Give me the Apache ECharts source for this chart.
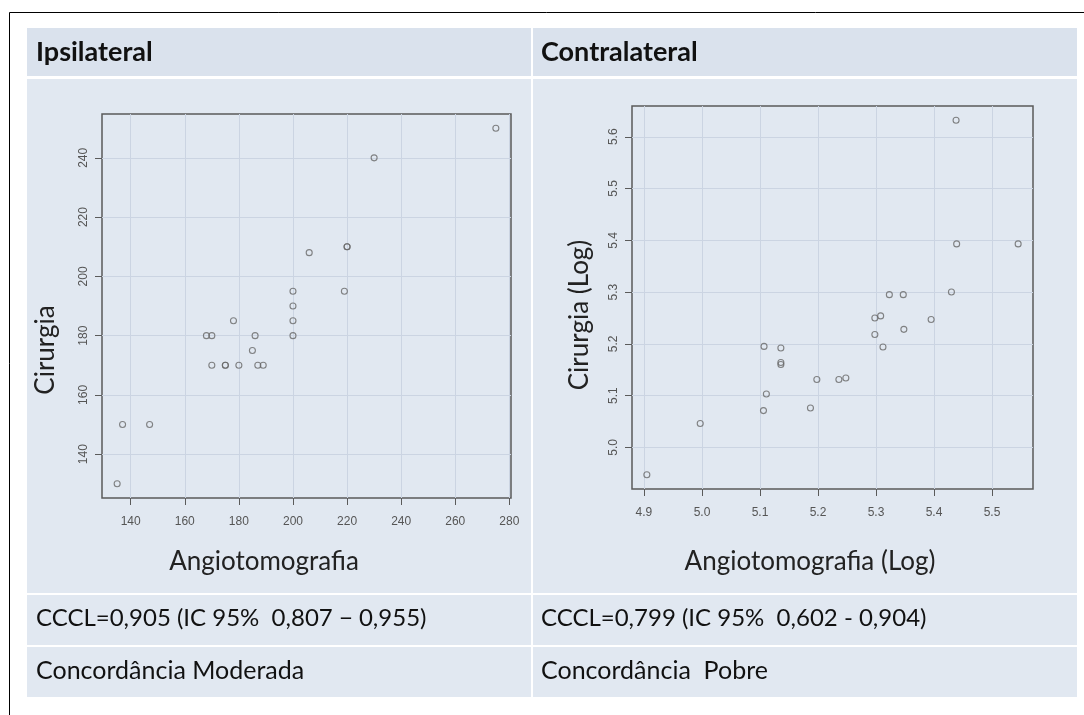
<!DOCTYPE html>
<html><head><meta charset="utf-8">
<script src="https://cdn.jsdelivr.net/npm/echarts@6/dist/echarts.min.js"></script>
<style>html,body{margin:0;padding:0;background:#fff}#c{width:1084px;height:715px}</style>
</head><body><div id="c"></div>
<script>
// Ipsilateral (raw values)
const ipsiAngio =    [135,137,147,168,170,170,175,175,180,178,185,186,187,189,200,200,200,200,206,219,220,220,230,275];
const ipsiCirurgia = [130,150,150,180,180,170,170,170,170,185,175,180,170,170,180,185,190,195,208,195,210,210,240,250];
// Contralateral (log values)
const contraAngio =    [4.905,4.997,5.106,5.111,5.107,5.136,5.136,5.136,5.187,5.198,5.236,5.248,5.298,5.298,5.308,5.312,5.323,5.347,5.348,5.395,5.430,5.438,5.439,5.545];
const contraCirurgia = [4.947,5.046,5.071,5.103,5.195,5.192,5.164,5.160,5.076,5.131,5.131,5.134,5.218,5.250,5.254,5.194,5.295,5.295,5.228,5.247,5.300,5.632,5.393,5.393];
const ipsiXTicks = [140,160,180,200,220,240,260,280];
const ipsiYTicks = [140,160,180,200,220,240];
const contraXTicks = [4.9,5.0,5.1,5.2,5.3,5.4,5.5];
const contraYTicks = [5.0,5.1,5.2,5.3,5.4,5.5,5.6];
const headers = ['Ipsilateral','Contralateral'];
const xTitles = ['Angiotomografia','Angiotomografia (Log)'];
const yTitles = ['Cirurgia','Cirurgia (Log)'];
const cccl = ['CCCL=0,905 (IC 95%  0,807 \u2212 0,955)','CCCL=0,799 (IC 95%  0,602 - 0,904)'];
const concord = ['Concordância Moderada','Concordância  Pobre'];

function rRange(arr){ // R-style 4% extension
  const mn=Math.min(...arr), mx=Math.max(...arr), d=(mx-mn)*0.04;
  return [mn-d, mx+d];
}
const HEAD_BG='#dae2ed', CELL_BG='#e1e8f1', GRID_C='#cbd4e2', AX_C='#5a5a5a', LBL_C='#555';
const tf='Lato, "Open Sans", sans-serif';
const lf='"Liberation Sans", Arial, sans-serif';

function axisX(range, ticks, dec, gi){
  return {type:'value', gridIndex:gi, min:range[0], max:range[1],
    axisLine:{show:false},
    axisTick:{show:true, length:7, inside:false, lineStyle:{color:AX_C}, customValues:ticks},
    axisLabel:{color:LBL_C, fontSize:12, fontFamily:lf, margin:18,
      customValues:ticks, formatter:v=>dec?Number(v).toFixed(dec):String(v)},
    splitLine:{show:true, lineStyle:{color:GRID_C, width:1}}};
}
function axisY(range, ticks, dec, gi){
  return {type:'value', gridIndex:gi, min:range[0], max:range[1],
    axisLine:{show:false},
    axisTick:{show:true, length:7, inside:false, lineStyle:{color:AX_C}, customValues:ticks},
    axisLabel:{color:LBL_C, fontSize:12, fontFamily:lf, margin:12, rotate:90,
      customValues:ticks, formatter:v=>dec?Number(v).toFixed(dec):String(v)},
    splitLine:{show:true, lineStyle:{color:GRID_C, width:1}}};
}

const g = [];
// outer border lines
g.push({type:'line', z:-5, shape:{x1:9.5,y1:12.5,x2:1084,y2:12.5}, style:{stroke:'#000',lineWidth:1}});
g.push({type:'line', z:-5, shape:{x1:9.5,y1:12.5,x2:9.5,y2:715}, style:{stroke:'#000',lineWidth:1}});
// table cells
const colX=[[27,531],[533,1077]];
const rows=[[28,76,HEAD_BG],[79,593,CELL_BG],[595,645,CELL_BG],[647,697,CELL_BG]];
colX.forEach(c=>rows.forEach(r=>g.push({type:'rect', z:-10, shape:{x:c[0],y:r[0],width:c[1]-c[0],height:r[1]-r[0]}, style:{fill:r[2]}})));
// header texts
const tx=[36,541];
headers.forEach((t,i)=>g.push({type:'text', z:5, x:tx[i], y:52, style:{text:t, font:'bold 27px '+tf, fill:'#111', verticalAlign:'middle'}}));
cccl.forEach((t,i)=>g.push({type:'text', z:5, x:tx[i], y:618, style:{text:t, font:'24px '+tf, fill:'#111', verticalAlign:'middle'}}));
concord.forEach((t,i)=>g.push({type:'text', z:5, x:tx[i], y:671, style:{text:t, font:'25px '+tf, fill:'#111', verticalAlign:'middle'}}));
// axis titles
const xtX=[264,810];
xTitles.forEach((t,i)=>g.push({type:'text', z:5, x:xtX[i], y:562, style:{text:t, font:'26px '+tf, fill:'#222', align:'center', verticalAlign:'middle'}}));
const ytPos=[[46,350],[580,315]];
yTitles.forEach((t,i)=>g.push({type:'text', z:5, x:ytPos[i][0], y:ytPos[i][1], rotation:Math.PI/2, style:{text:t, font:'26px '+tf, fill:'#222', align:'center', verticalAlign:'middle'}}));

const symStyle={color:'rgba(0,0,0,0)', borderColor:'#666', borderWidth:1.1};
const option={
  animation:false,
  backgroundColor:'#ffffff',
  graphic:g,
  grid:[
    {left:102, top:114, width:409, height:384, show:true, borderColor:AX_C, borderWidth:1.5, backgroundColor:'transparent'},
    {left:632, top:106, width:401, height:383, show:true, borderColor:AX_C, borderWidth:1.5, backgroundColor:'transparent'}
  ],
  xAxis:[axisX(rRange(ipsiAngio), ipsiXTicks, 0, 0), axisX(rRange(contraAngio), contraXTicks, 1, 1)],
  yAxis:[axisY(rRange(ipsiCirurgia), ipsiYTicks, 0, 0), axisY(rRange(contraCirurgia), contraYTicks, 1, 1)],
  series:[
    {type:'scatter', xAxisIndex:0, yAxisIndex:0, symbol:'circle', symbolSize:6, itemStyle:symStyle,
      data:ipsiAngio.map((v,i)=>[v,ipsiCirurgia[i]])},
    {type:'scatter', xAxisIndex:1, yAxisIndex:1, symbol:'circle', symbolSize:6, itemStyle:symStyle,
      data:contraAngio.map((v,i)=>[v,contraCirurgia[i]])}
  ]
};
const chart=echarts.init(document.getElementById('c'));
chart.setOption(option);
</script></body></html>
